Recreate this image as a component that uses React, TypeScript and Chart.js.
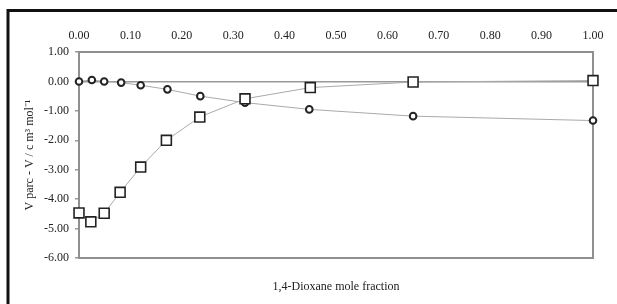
import React, { useEffect, useRef } from "react";
import { Chart, registerables } from "chart.js";

Chart.register(...registerables);

// Data
const squareX = [0, 0.023, 0.049, 0.08, 0.12, 0.17, 0.235, 0.323, 0.45, 0.65, 1.0];
const squareY = [-4.47, -4.77, -4.48, -3.77, -2.91, -2.0, -1.21, -0.59, -0.21, -0.02, 0.03];
const circleX = [0, 0.025, 0.049, 0.082, 0.12, 0.172, 0.236, 0.323, 0.448, 0.65, 1.0];
const circleY = [0.0, 0.05, 0.0, -0.04, -0.13, -0.27, -0.5, -0.72, -0.95, -1.18, -1.33];

const xMin = 0;
const xMax = 1;
const xStep = 0.1;
const yMin = -6;
const yMax = 1;
const yStep = 1;

const yAxisTitle = "V parc - V / c m³ mol⁻¹";
const xAxisTitle = "1,4-Dioxane mole fraction";

const FONT = "'Liberation Serif', 'Times New Roman', serif";
const TEXT = "#222";

export default function App() {
  const ref = useRef<HTMLCanvasElement>(null);

  useEffect(() => {
    if (!ref.current) return;

    const framePlugin = {
      id: "frame",
      beforeDraw(chart: any) {
        const ctx = chart.ctx;
        ctx.save();
        ctx.fillStyle = "#fff";
        ctx.fillRect(0, 0, chart.width, chart.height);
        ctx.strokeStyle = "#111";
        ctx.lineWidth = 3;
        ctx.beginPath();
        ctx.moveTo(8, chart.height + 2);
        ctx.lineTo(8, 10.5);
        ctx.lineTo(chart.width + 2, 10.5);
        ctx.stroke();
        ctx.restore();
      },
      beforeDatasetsDraw(chart: any) {
        const { left, right, top, bottom } = chart.chartArea;
        const ctx = chart.ctx;
        ctx.save();
        ctx.strokeStyle = "#8f8f8f";
        ctx.lineWidth = 2;
        ctx.strokeRect(left, top, right - left, bottom - top);
        ctx.restore();
      },
    };

    const fmt = (v: any) => Number(v).toFixed(2);

    const chart = new Chart(ref.current, {
      type: "scatter",
      data: {
        datasets: [
          {
            label: "squares",
            data: squareX.map((x, i) => ({ x, y: squareY[i] })),
            showLine: true,
            borderColor: "#aaaaaa",
            borderWidth: 1,
            pointStyle: "rect",
            pointRadius: 7,
            pointBorderWidth: 1.6,
            pointBorderColor: "#222",
            pointBackgroundColor: "#fff",
            clip: false,
            xAxisID: "x",
            yAxisID: "y",
          },
          {
            label: "circles",
            data: circleX.map((x, i) => ({ x, y: circleY[i] })),
            showLine: true,
            borderColor: "#aaaaaa",
            borderWidth: 1,
            pointStyle: "circle",
            pointRadius: 3.3,
            pointBorderWidth: 2,
            pointBorderColor: "#222",
            pointBackgroundColor: "#fff",
            clip: false,
            xAxisID: "x",
            yAxisID: "y",
          },
        ],
      },
      options: {
        responsive: false,
        animation: false,
        devicePixelRatio: 1,
        layout: { padding: { left: 0, right: 24, top: 0, bottom: 0 } },
        plugins: {
          legend: { display: false },
          tooltip: { enabled: false },
        },
        scales: {
          x: {
            type: "linear",
            position: "top",
            min: xMin,
            max: xMax,
            ticks: {
              stepSize: xStep,
              callback: fmt,
              font: { family: FONT, size: 12 },
              color: TEXT,
              padding: 9,
              maxRotation: 0,
              autoSkip: false,
            },
            grid: { display: false, drawTicks: false },
            border: { display: false },
            afterFit: (s: any) => {
              s.height = 52;
            },
          },
          xb: {
            type: "linear",
            position: "bottom",
            min: xMin,
            max: xMax,
            ticks: { display: false },
            grid: { display: false, drawTicks: false },
            border: { display: false },
            title: {
              display: true,
              text: xAxisTitle,
              font: { family: FONT, size: 12 },
              color: TEXT,
              padding: { top: 0, bottom: 10 },
            },
            afterFit: (s: any) => {
              s.height = 46;
            },
          },
          y: {
            type: "linear",
            position: "left",
            min: yMin,
            max: yMax,
            ticks: {
              stepSize: yStep,
              callback: fmt,
              font: { family: FONT, size: 12 },
              color: TEXT,
              padding: 6,
            },
            grid: {
              color: (c: any) => (c.tick && c.tick.value === 0 ? "#999" : "rgba(0,0,0,0)"),
              tickColor: "#999",
              tickLength: 4,
              lineWidth: 1.5,
            },
            border: { display: false },
            title: {
              display: true,
              text: yAxisTitle,
              font: { family: FONT, size: 12 },
              color: TEXT,
              padding: { top: 23, bottom: 0 },
            },
            afterFit: (s: any) => {
              s.width = 79;
            },
          },
        },
      },
      plugins: [framePlugin],
    });

    return () => chart.destroy();
  }, []);

  return (
    <div style={{ position: "absolute", left: 0, top: 0, width: 617, height: 304 }}>
      <canvas ref={ref} width={617} height={304} style={{ display: "block" }} />
    </div>
  );
}
